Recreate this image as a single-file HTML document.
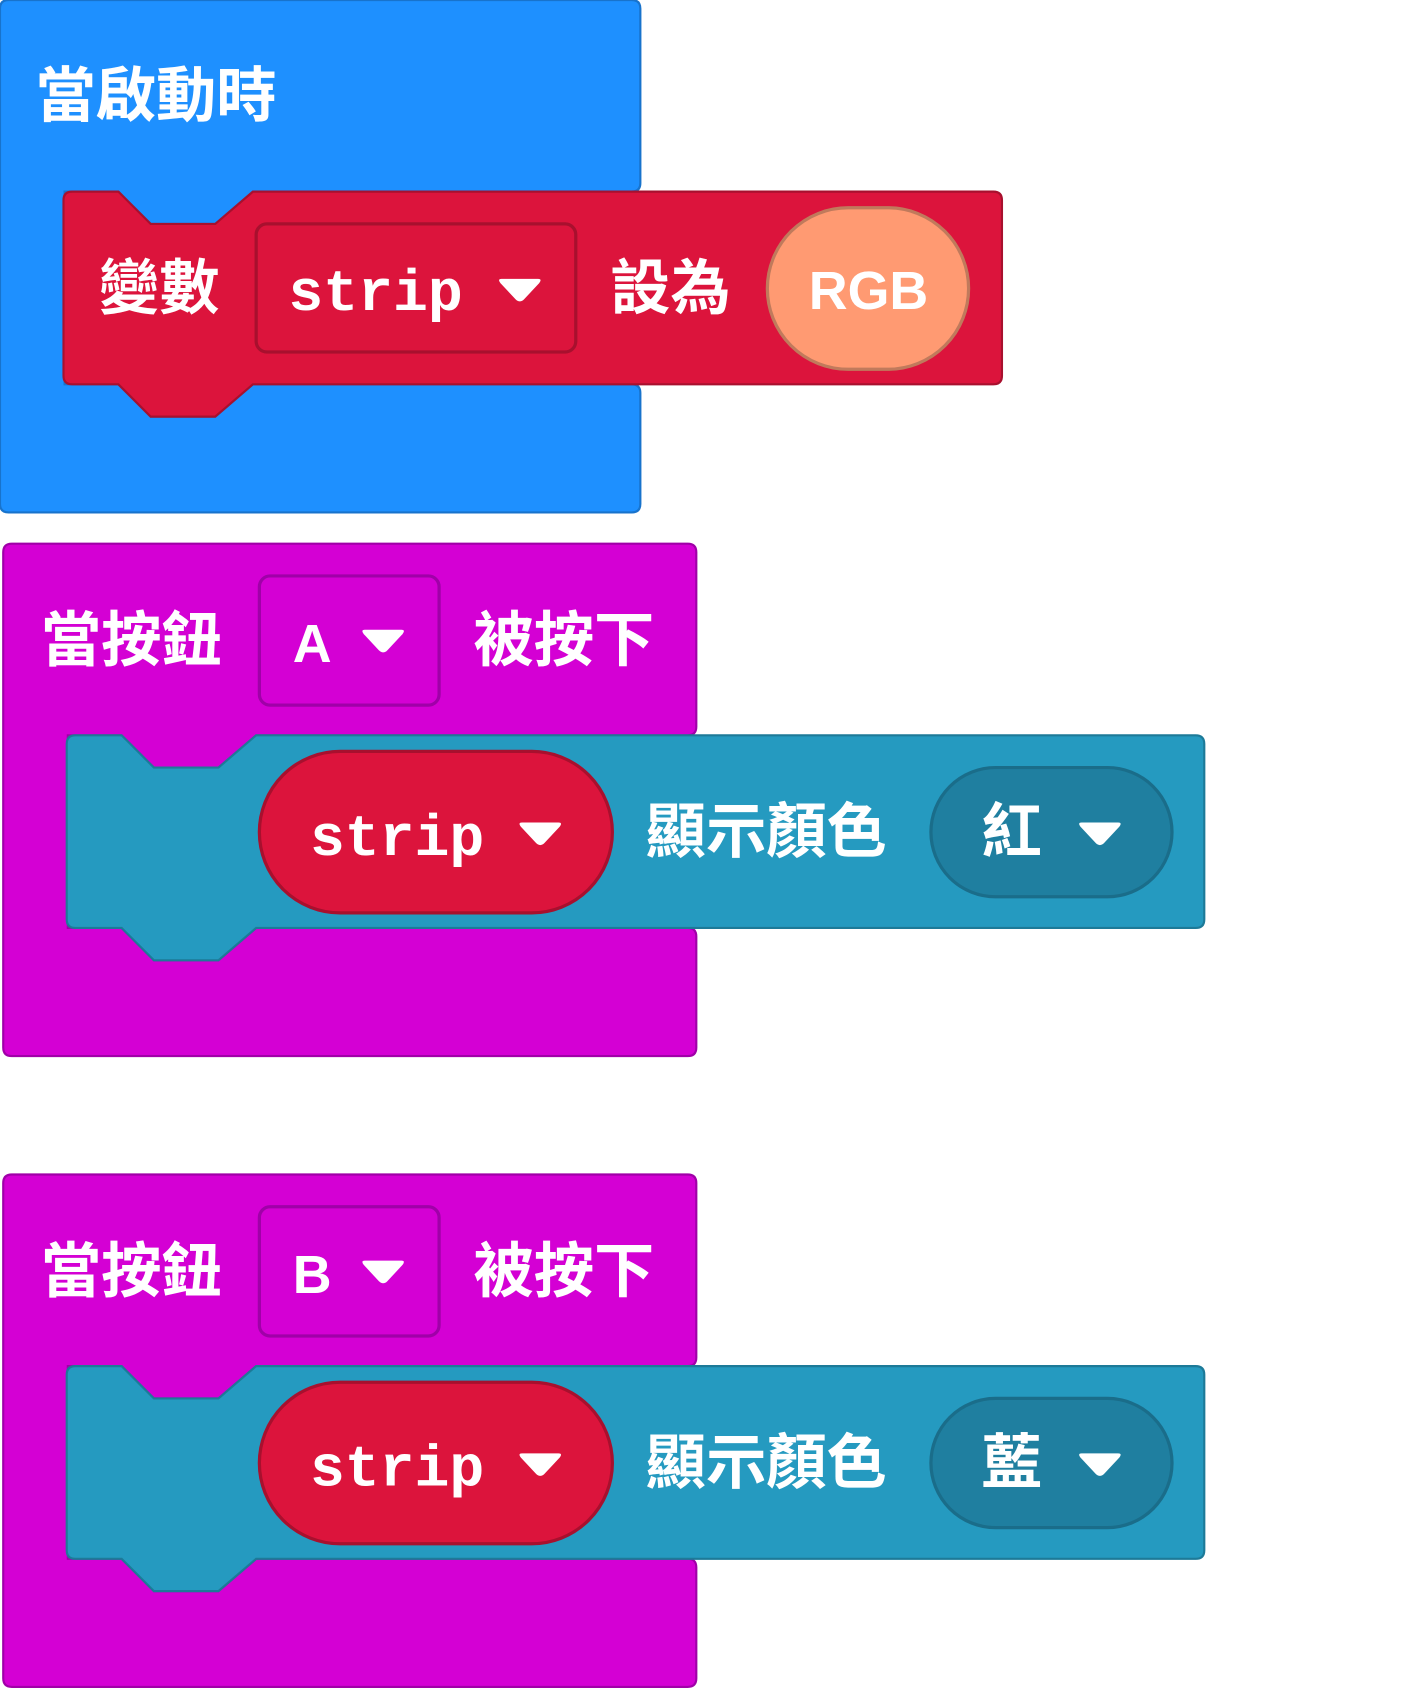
<!DOCTYPE html>
<html><head><meta charset="utf-8"><style>
html,body{margin:0;padding:0;background:#fff;}
svg{display:block;}
.cjk{font-family:"Liberation Sans","Noto Sans CJK TC",sans-serif;font-weight:bold;fill:#fff;font-size:56px;}
.mono{font-family:"Liberation Mono","DejaVu Sans Mono",monospace;font-weight:bold;fill:#fff;font-size:54px;}
</style></head><body>
<svg width="1412" height="1688" viewBox="0 0 1312 1568" preserveAspectRatio="none" xmlns="http://www.w3.org/2000/svg">
<defs>
<path id="tri" d="M0,0 H34 Q38,0 35,4 L21,19 Q17,23 13,19 L-1,4 Q-4,0 0,0 Z" fill="#fff"/>
</defs>
<path d="M0,8 Q0,0 8,0 H587 Q595,0 595,8 V170 Q595,178 587,178 H235 L200,208 H140 L110,178 H60 V357 H110 L140,387 H200 L235,357 H587 Q595,357 595,365 V468 Q595,476 587,476 H8 Q0,476 0,468 Z" fill="#1E90FF" stroke="#1873CC" stroke-width="2"/>
<text class="cjk" x="33" y="108">當啟動時</text>
<path d="M59,186 Q59,178 67,178 H110 L140,208 H200 L235,178 H923 Q931,178 931,186 V349 Q931,357 923,357 H235 L200,387 H140 L110,357 H67 Q59,357 59,349 Z" fill="#DC143C" stroke="#A8102E" stroke-width="2"/>
<text class="cjk" x="92" y="287">變數</text>
<rect x="238" y="208" width="297" height="119" rx="10" fill="#DC143C" stroke="#A8102E" stroke-width="3"/>
<text class="mono" x="268" y="288">strip</text>
<use href="#tri" x="466" y="259"/>
<text class="cjk" x="567" y="287">設為</text>
<rect x="713" y="193" width="187" height="150" rx="75" fill="#FF9A72" stroke="#C07A5C" stroke-width="3"/>
<text x="807" y="287" text-anchor="middle" style="font-family:'Liberation Sans Narrow','Liberation Sans',sans-serif;font-weight:bold;font-size:50px;fill:#fff">RGB</text>

<g id="btnA">
<path d="M3,513 Q3,505 11,505 H639 Q647,505 647,513 V675 Q647,683 639,683 H238 L203,713 H143 L113,683 H63 V862 H113 L143,892 H203 L238,862 H639 Q647,862 647,870 V973 Q647,981 639,981 H11 Q3,981 3,973 Z" fill="#D400D4" stroke="#A000A8" stroke-width="2"/>
<text class="cjk" x="38" y="614">當按鈕</text>
<rect x="241" y="535" width="167" height="120" rx="10" fill="#D400D4" stroke="#A000A8" stroke-width="3"/>
<text class="cjk" x="440" y="614">被按下</text>
<path d="M62,691 Q62,683 70,683 H113 L143,713 H203 L238,683 H1111 Q1119,683 1119,691 V854 Q1119,862 1111,862 H238 L203,892 H143 L113,862 H70 Q62,862 62,854 Z" fill="#259AC0" stroke="#1D7A98" stroke-width="2"/>
<rect x="241" y="698" width="328" height="150" rx="75" fill="#DC143C" stroke="#A8102E" stroke-width="3"/>
<text class="mono" x="288" y="794">strip</text>
<use href="#tri" x="485" y="764"/>
<text class="cjk" x="600" y="792">顯示顏色</text>
<rect x="865" y="713" width="224" height="120" rx="60" fill="#1F7FA0" stroke="#1A6D8A" stroke-width="3"/>
<use href="#tri" x="1005" y="764"/>
</g>
<text x="272" y="615" style="font-family:'Liberation Sans',sans-serif;font-weight:bold;font-size:50px;fill:#fff">A</text>
<use href="#tri" x="339" y="585"/>
<text class="cjk" x="912" y="792">紅</text>

<g transform="translate(0,586)">
<use href="#btnA"/>
<text x="272" y="615" style="font-family:'Liberation Sans',sans-serif;font-weight:bold;font-size:50px;fill:#fff">B</text>
<use href="#tri" x="339" y="585"/>
<text class="cjk" x="912" y="792">藍</text>
</g>
</svg>
</body></html>
